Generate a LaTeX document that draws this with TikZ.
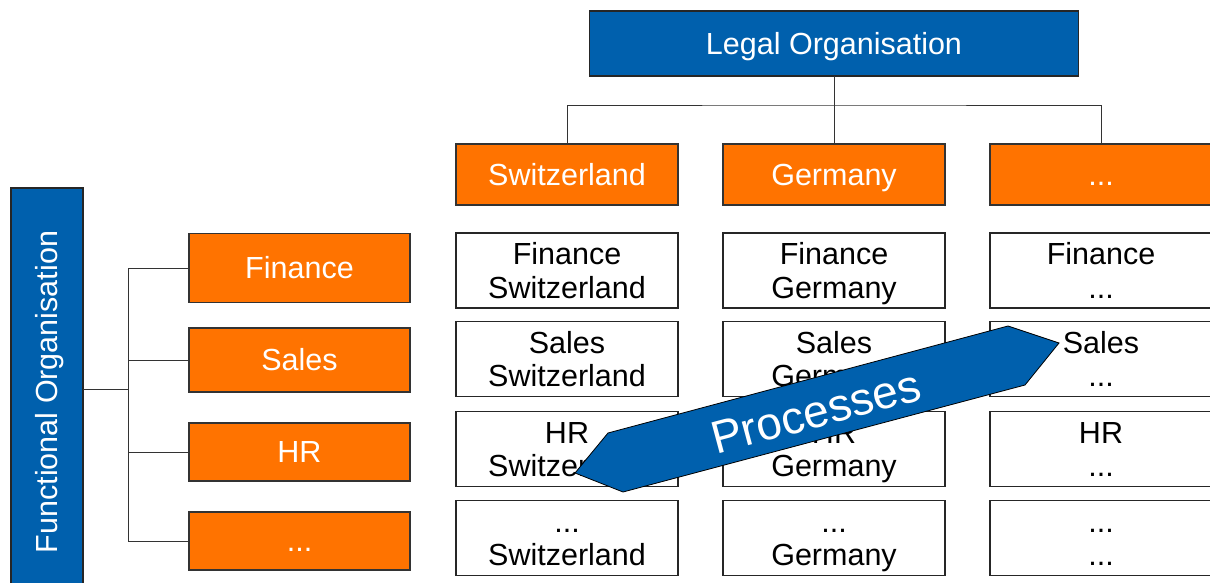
\documentclass[tikz,border=0pt]{standalone}
\usepackage{fontspec}
\setmainfont{Liberation Sans}
\definecolor{orgblue}{HTML}{0060AD}
\definecolor{orgorange}{HTML}{FF7300}
\newcommand\mystrut{\rule[-2.2pt]{0pt}{26pt}}
\newcommand\ml[1]{\mystrut\smash{#1}}
\begin{document}
\begin{tikzpicture}[x=1pt,y=-1pt,
  every node/.style={inner sep=0pt,outer sep=0pt,font=\fontsize{30.5}{33.5}\selectfont,align=center},
  bluebox/.style={draw=black!85,line width=1.3pt,fill=orgblue,text=white},
  orangebox/.style={draw=black!80,line width=1.3pt,fill=orgorange,text=white,minimum width=222pt},
  whitebox/.style={draw=black!85,line width=1.3pt,fill=white,text=black,minimum width=222pt,minimum height=75pt},
  conn/.style={draw=black!80,line width=0.8pt}]
\useasboundingbox (0,0) rectangle (1210,583);
\clip (0,0) rectangle (1210,583);
% legal organisation
\node[bluebox,minimum width=489pt,minimum height=65pt] (legal) at (834,43.5) {\ml{Legal Organisation}};
\node[orangebox,minimum height=61pt] (ch) at (567,174.5) {\ml{Switzerland}};
\node[orangebox,minimum height=61pt] (de) at (834,174.5) {\ml{Germany}};
\node[orangebox,minimum height=61pt] (xx) at (1101,174.5) {\ml{...}};
\coordinate (bus) at (834,105);
\draw[conn] (legal.south) -- (bus);
\draw[conn] (ch.north) |- (bus) -| (xx.north);
\draw[conn] (de.north) -- (bus);
% functional organisation
\node[bluebox,minimum width=72pt,minimum height=402pt] (fo) at (47,389) {};
\node[text=white,rotate=90] (folabel) at (47,392) {\ml{Functional Organisation}};
\node[orangebox,minimum width=221pt,minimum height=69pt] (fin) at (299.5,268) {\ml{Finance}};
\node[orangebox,minimum width=221pt,minimum height=64pt] (sal) at (299.5,360) {\ml{Sales}};
\node[orangebox,minimum width=221pt,minimum height=58pt] (hr) at (299.5,452) {\ml{HR}};
\node[orangebox,minimum width=221pt,minimum height=58pt] (ld) at (299.5,541) {\ml{...}};
\coordinate (lb) at (128,389);
\draw[conn] (fo.east) -- (lb);
\draw[conn] (fin.west) -| (lb);
\draw[conn] (sal.west) -| (lb);
\draw[conn] (hr.west) -| (lb);
\draw[conn] (ld.west) -| (lb);
% matrix
\node[whitebox] (c11) at (567,270.5) {\ml{Finance}\\\ml{Switzerland}};
\node[whitebox] (c12) at (834,270.5) {\ml{Finance}\\\ml{Germany}};
\node[whitebox] (c13) at (1101,270.5) {\ml{Finance}\\\ml{...}};
\node[whitebox] (c21) at (567,359) {\ml{Sales}\\\ml{Switzerland}};
\node[whitebox] (c22) at (834,359) {\ml{Sales}\\\ml{Germany}};
\node[whitebox] (c23) at (1101,359) {\ml{Sales}\\\ml{...}};
\node[whitebox] (c31) at (567,449) {\ml{HR}\\\ml{Switzerland}};
\node[whitebox] (c32) at (834,449) {\ml{HR}\\\ml{Germany}};
\node[whitebox] (c33) at (1101,449) {\ml{HR}\\\ml{...}};
\node[whitebox] (c41) at (567,538) {\ml{...}\\\ml{Switzerland}};
\node[whitebox] (c42) at (834,538) {\ml{...}\\\ml{Germany}};
\node[whitebox] (c43) at (1101,538) {\ml{...}\\\ml{...}};
% processes arrow
\draw[draw=black,line width=0.8pt,fill=orgblue] (575,473) -- (608,433) -- (1008,326) -- (1059,343) -- (1025,385) -- (623,492) -- cycle;
\node[text=white,rotate=15,font=\fontsize{46}{48}\selectfont] (proc) at (816,412) {Processes};
\end{tikzpicture}
\end{document}
